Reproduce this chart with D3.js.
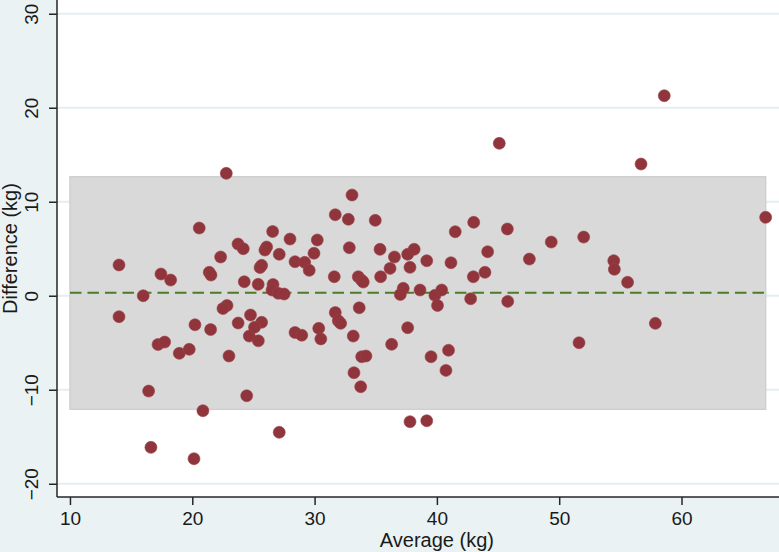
<!DOCTYPE html>
<html lang="en">
<head>
<meta charset="UTF-8">
<title>Bland-Altman plot</title>
<script src="https://d3js.org/d3.v7.min.js"></script>
<style>
  html, body { margin: 0; padding: 0; background: #eaf2f3; }
  svg { display: block; }
  text { font-family: "Liberation Sans", Arial, Helvetica, sans-serif; fill: #1a1a1a; }
</style>
</head>
<body>
<div id="chart"></div>
<script>
// average of the two measures (kg)
const avgKg = [
  14.01, 14.01, 15.99, 17.44, 18.23, 16.43, 16.62, 20.14, 20.87, 20.57,
  22.78, 23.74, 24.17, 22.32, 21.39, 21.53, 24.25, 22.84, 22.51, 24.76,
  20.22, 21.50, 23.75, 24.66, 17.20, 17.74, 18.94, 19.75, 23.00, 24.45,
  33.06, 31.69, 32.76, 34.96, 26.57, 27.99, 30.22, 32.84, 35.35, 25.94,
  26.08, 27.11, 29.95, 36.53, 37.61, 38.14, 39.17, 28.40, 29.19, 29.56,
  25.54, 25.67, 36.17, 37.80, 31.61, 33.57, 33.85, 33.98, 35.40, 25.39,
  26.60, 26.52, 27.03, 27.51, 37.25, 37.01, 38.62, 39.84, 40.39, 40.05,
  25.67, 25.09, 25.40, 31.69, 31.94, 32.13, 33.65, 28.40, 28.95, 30.34,
  30.51, 33.16, 37.61, 36.30, 33.85, 34.20, 39.52, 33.22, 33.77, 27.11,
  37.80, 39.17, 45.10, 43.01, 41.50, 45.76, 49.35, 52.00, 44.15, 47.56,
  41.15, 43.93, 42.98, 54.46, 54.51, 55.59, 42.76, 45.79, 51.62, 40.95,
  40.74, 58.59, 56.69, 66.88, 57.86
];
// difference between the two measures (kg)
const diffKg = [
  3.27, -2.23, 0.00, 2.31, 1.67, -10.14, -16.13, -17.34, -12.23, 7.20,
  13.02, 5.50, 5.00, 4.12, 2.49, 2.20, 1.49, -1.04, -1.36, -2.05,
  -3.09, -3.60, -2.90, -4.29, -5.19, -4.93, -6.13, -5.70, -6.41, -10.64,
  10.71, 8.62, 8.13, 8.02, 6.83, 6.03, 5.93, 5.11, 4.94, 4.86,
  5.18, 4.41, 4.52, 4.12, 4.41, 4.94, 3.72, 3.62, 3.55, 2.70,
  3.00, 3.23, 2.91, 3.02, 2.02, 2.02, 1.64, 1.46, 2.02, 1.21,
  1.19, 0.61, 0.26, 0.18, 0.79, 0.13, 0.61, 0.04, 0.61, -1.04,
  -2.83, -3.35, -4.80, -1.79, -2.67, -2.94, -1.28, -3.91, -4.20, -3.47,
  -4.59, -4.29, -3.40, -5.17, -6.49, -6.41, -6.49, -8.19, -9.68, -14.53,
  -13.40, -13.30, 16.21, 7.81, 6.81, 7.10, 5.71, 6.24, 4.68, 3.90,
  3.51, 2.49, 2.02, 3.72, 2.81, 1.43, -0.32, -0.60, -5.00, -5.80,
  -7.94, 21.28, 14.01, 8.34, -2.94
];
const xTicks = [10, 20, 30, 40, 50, 60];
const yTicks = [-20, -10, 0, 10, 20, 30];
const meanDiff = 0.32;
const limitsOfAgreement = [-12.08, 12.66];
const xTitle = "Average (kg)";
const yTitle = "Difference (kg)";

const width = 779, height = 552;
const margin = {top: 0, right: 0, bottom: 55, left: 57};
const plotW = width - margin.left - margin.right;
const plotH = height - margin.top - margin.bottom;

const x = d3.scaleLinear().domain([8.94, 67.97]).range([0, plotW]);
const y = d3.scaleLinear().domain([-21.41, 31.46]).range([plotH, 0]);

const svg = d3.select("#chart").append("svg")
    .attr("width", width)
    .attr("height", height);

svg.append("rect")
    .attr("width", width).attr("height", height)
    .attr("fill", "#eaf2f3");

const g = svg.append("g")
    .attr("transform", `translate(${margin.left},${margin.top})`);

// plot region
g.append("rect")
    .attr("width", plotW).attr("height", plotH)
    .attr("fill", "#ffffff");

// horizontal grid lines
g.append("g").selectAll("line")
    .data(yTicks)
    .join("line")
    .attr("x1", 0).attr("x2", plotW)
    .attr("y1", d => y(d)).attr("y2", d => y(d))
    .attr("stroke", "#e4eef1")
    .attr("stroke-width", 2);

// limits of agreement band
const xMax = d3.max(avgKg);
g.append("rect")
    .attr("x", x(10))
    .attr("y", y(limitsOfAgreement[1]))
    .attr("width", x(xMax) - x(10))
    .attr("height", y(limitsOfAgreement[0]) - y(limitsOfAgreement[1]))
    .attr("fill", "#d9d9d9")
    .attr("stroke", "#d0d0d0")
    .attr("stroke-width", 1.5);

// mean difference
g.append("line")
    .attr("x1", x(10)).attr("x2", x(xMax))
    .attr("y1", y(meanDiff)).attr("y2", y(meanDiff))
    .attr("stroke", "#4f7a28")
    .attr("stroke-width", 2)
    .attr("stroke-dasharray", "11.5,6");

// points
g.append("g").selectAll("circle")
    .data(avgKg.map((a, i) => ({a: a, d: diffKg[i]})))
    .join("circle")
    .attr("cx", d => x(d.a))
    .attr("cy", d => y(d.d))
    .attr("r", 6)
    .attr("fill", "#90353b")
    .attr("stroke", "#9a4148")
    .attr("stroke-width", 0.6);

// axes
const xAxis = g.append("g")
    .attr("transform", `translate(0,${plotH})`)
    .call(d3.axisBottom(x).tickValues(xTicks).tickSize(8).tickPadding(7).tickSizeOuter(0));
const yAxis = g.append("g")
    .call(d3.axisLeft(y).tickValues(yTicks).tickSize(8).tickSizeOuter(0)
        .tickFormat(d => d < 0 ? "\u2212" + Math.abs(d) : d));

[xAxis, yAxis].forEach(a => {
    a.select(".domain").attr("stroke", "#262626").attr("stroke-width", 1.5);
    a.selectAll(".tick line").attr("stroke", "#262626").attr("stroke-width", 1.5);
    a.selectAll("text").attr("font-size", 19).attr("fill", "#1a1a1a")
        .style("font-family", '"Liberation Sans", Arial, sans-serif');
});
xAxis.select(".domain").attr("d", `M0,0H${plotW}`);
yAxis.select(".domain").attr("d", `M0,${plotH}V0`);

// rotated y tick labels
yAxis.selectAll(".tick text")
    .attr("x", null).attr("dy", null)
    .attr("text-anchor", "middle")
    .attr("transform", "translate(-19,0) rotate(-90)");

// titles
svg.append("text")
    .attr("x", margin.left + x(40))
    .attr("y", 547)
    .attr("text-anchor", "middle")
    .attr("font-size", 20)
    .text(xTitle);

svg.append("text")
    .attr("transform", `translate(17,${margin.top + plotH / 2}) rotate(-90)`)
    .attr("text-anchor", "middle")
    .attr("font-size", 20)
    .text(yTitle);
</script>
</body>
</html>
